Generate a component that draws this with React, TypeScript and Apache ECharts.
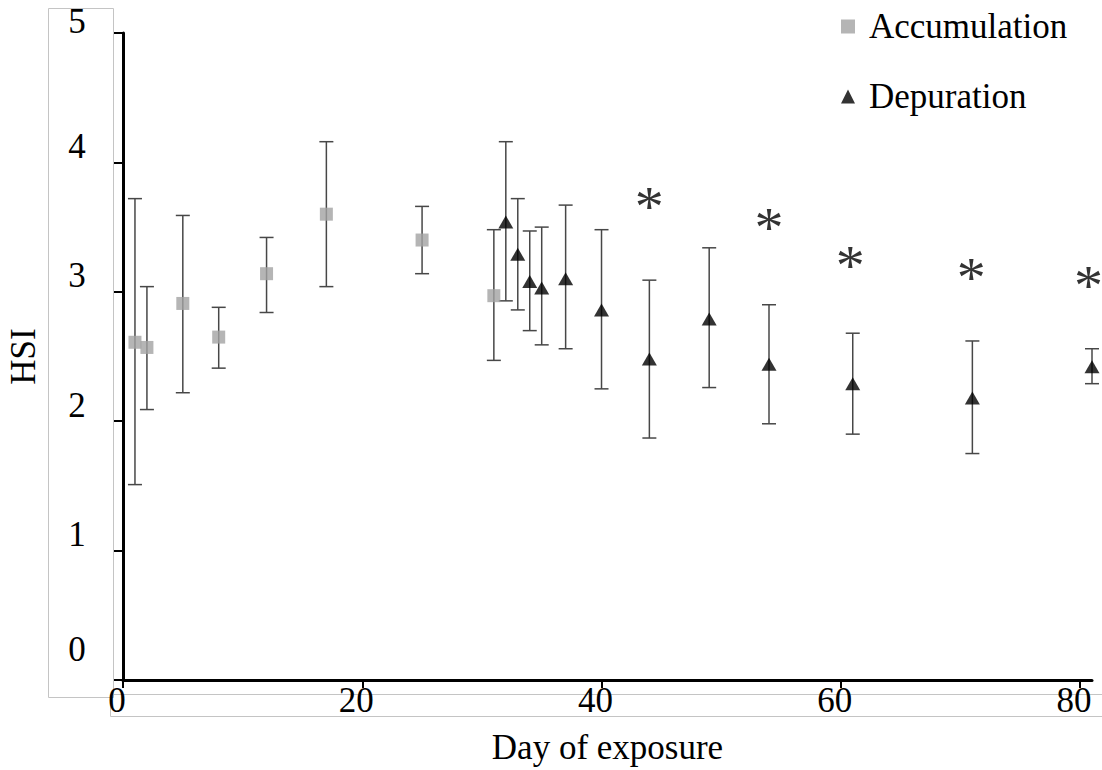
import React, { useEffect, useRef } from "react";
import * as echarts from "echarts";

const accDays = [1, 2, 5, 8, 12, 17, 25, 31];
const accHSI = [2.61, 2.57, 2.91, 2.65, 3.14, 3.6, 3.4, 2.97];
const accLow = [1.51, 2.09, 2.22, 2.41, 2.84, 3.04, 3.14, 2.47];
const accHigh = [3.72, 3.04, 3.59, 2.88, 3.42, 4.16, 3.66, 3.48];

const depDays = [32, 33, 34, 35, 37, 40, 44, 49, 54, 61, 71, 81];
const depHSI = [3.54, 3.29, 3.08, 3.03, 3.1, 2.86, 2.48, 2.79, 2.44, 2.29, 2.18, 2.42];
const depLow = [2.93, 2.86, 2.7, 2.59, 2.56, 2.25, 1.87, 2.26, 1.98, 1.9, 1.75, 2.29];
const depHigh = [4.16, 3.72, 3.47, 3.5, 3.67, 3.48, 3.09, 3.34, 2.9, 2.68, 2.62, 2.56];

const sigDays = [44, 54, 60.8, 70.9, 80.7];
const sigY = [3.73, 3.57, 3.27, 3.18, 3.12];

const xTicks = [0, 20, 40, 60, 80];

const FONT = "Liberation Serif";

export default function App() {
  const ref = useRef<HTMLDivElement>(null);
  useEffect(() => {
    if (!ref.current) return;
    const chart = echarts.init(ref.current, undefined, { renderer: "svg" });

    const errData = [
      ...accDays.map((d, i) => [d, accLow[i], accHigh[i], 0]),
      ...depDays.map((d, i) => [d, depLow[i], depHigh[i], 1]),
    ];

    const renderErr = (params: any, api: any) => {
      const x = api.value(0);
      const lo = api.value(1);
      const hi = api.value(2);
      const top = api.coord([x, hi]);
      const bot = api.coord([x, lo]);
      const hw = 7;
      const st = { stroke: "#474747", lineWidth: 1.5 };
      return {
        type: "group",
        children: [
          { type: "line", shape: { x1: top[0], y1: top[1], x2: bot[0], y2: bot[1] }, style: st },
          { type: "line", shape: { x1: top[0] - hw, y1: top[1], x2: top[0] + hw, y2: top[1] }, style: st },
          { type: "line", shape: { x1: bot[0] - hw, y1: bot[1], x2: bot[0] + hw, y2: bot[1] }, style: st },
        ],
      };
    };

    const option: any = {
      animation: false,
      backgroundColor: "#ffffff",
      textStyle: { fontFamily: FONT, color: "#000" },
      graphic: [
        {
          type: "rect",
          shape: { x: 48.5, y: 8.5, width: 65, height: 689 },
          style: { fill: "none", stroke: "#c4c4c4", lineWidth: 1 },
          z: -1,
        },
        {
          type: "rect",
          shape: { x: 110.5, y: 694.5, width: 1000, height: 22 },
          style: { fill: "none", stroke: "#c4c4c4", lineWidth: 1 },
          z: -1,
        },
      ],
      grid: { left: 123, right: 10, top: 33, bottom: 90, containLabel: false, outerBoundsMode: "none" },
      legend: {
        orient: "vertical",
        left: 836,
        top: 4,
        itemWidth: 14,
        itemHeight: 14,
        itemGap: 35,
        textStyle: { fontFamily: FONT, fontSize: 35, color: "#000", padding: [0, 0, 0, 9] },
        data: [
          { name: "Accumulation", icon: "rect" },
          { name: "Depuration", icon: "triangle" },
        ],
      },
      xAxis: {
        type: "value",
        min: 0,
        max: 81,
        interval: 20,
        name: "Day of exposure",
        nameLocation: "middle",
        nameGap: 50,
        nameTextStyle: { fontFamily: FONT, fontSize: 35, color: "#000" },
        axisLine: { show: true, lineStyle: { color: "#000", width: 3 } },
        axisTick: { show: true, inside: false, length: 8, customValues: xTicks, lineStyle: { color: "#000", width: 2 } },
        axisLabel: {
          customValues: xTicks,
          margin: 3,
          fontFamily: FONT,
          fontSize: 35,
          color: "#000",
          padding: [0, 12, 0, 0],
        },
        splitLine: { show: false },
      },
      yAxis: {
        type: "value",
        min: 0,
        max: 5,
        interval: 1,
        name: "HSI",
        nameLocation: "middle",
        nameRotate: 90,
        nameGap: 82,
        nameTextStyle: { fontFamily: FONT, fontSize: 35, color: "#000" },
        axisLine: { show: true, lineStyle: { color: "#000", width: 3 } },
        axisTick: { show: true, inside: false, length: 9, lineStyle: { color: "#000", width: 2 } },
        axisLabel: {
          margin: 46,
          align: "center",
          fontFamily: FONT,
          fontSize: 35,
          color: "#000",
          formatter: (v: number) => (v === 0 ? "{z|0}" : v === 5 ? "{t|5}" : "{n|" + v + "}"),
          rich: {
            t: { fontFamily: FONT, fontSize: 35, color: "#000", padding: [0, 0, 24, 0] },
            n: { fontFamily: FONT, fontSize: 35, color: "#000", padding: [0, 0, 32, 0] },
            z: { fontFamily: FONT, fontSize: 35, color: "#000", padding: [0, 0, 62, 0] },
          },
        },
        splitLine: { show: false },
      },
      series: [
        {
          type: "custom",
          name: "err",
          renderItem: renderErr,
          encode: { x: 0, y: [1, 2] },
          data: errData,
          clip: false,
          z: 1,
        },
        {
          type: "scatter",
          name: "Accumulation",
          symbol: "rect",
          symbolSize: 13,
          itemStyle: { color: "#a3a3a3" },
          data: accDays.map((d, i) => [d, accHSI[i]]),
          clip: false,
          z: 3,
        },
        {
          type: "scatter",
          name: "Depuration",
          symbol: "triangle",
          symbolSize: [15, 13],
          itemStyle: { color: "#000" },
          data: depDays.map((d, i) => [d, depHSI[i]]),
          clip: false,
          z: 3,
        },
        {
          type: "scatter",
          name: "sig",
          symbol: "circle",
          symbolSize: 2,
          itemStyle: { color: "rgba(0,0,0,0)" },
          data: sigDays.map((d, i) => [d, sigY[i]]),
          clip: false,
          label: {
            show: true,
            position: "inside",
            formatter: "*",
            fontFamily: FONT,
            fontSize: 58,
            color: "#000",
            offset: [0, 9],
          },
          z: 4,
        },
      ],
    };
    chart.setOption(option);
    return () => chart.dispose();
  }, []);
  return <div ref={ref} style={{ width: 1102, height: 770, position: "absolute", left: 0, top: 0 }} />;
}
